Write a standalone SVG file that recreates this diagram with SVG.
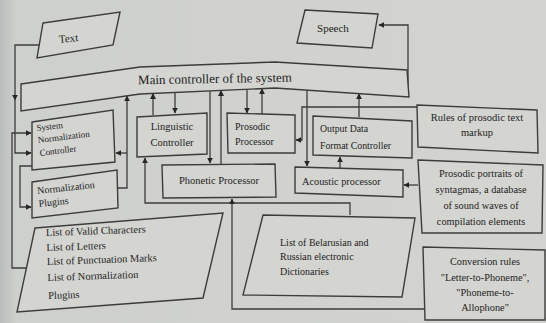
<svg xmlns="http://www.w3.org/2000/svg" width="546" height="323" viewBox="0 0 546 323">
<defs>
<linearGradient id="bg" x1="0" y1="0" x2="1" y2="0">
<stop offset="0" stop-color="#b9bcbb"/>
<stop offset="0.03" stop-color="#ced0cd"/>
<stop offset="1" stop-color="#d3d4d0"/>
</linearGradient>
<marker id="ah" viewBox="0 0 10 10" refX="9" refY="5" markerWidth="6" markerHeight="6" markerUnits="userSpaceOnUse" orient="auto">
<path d="M0,0 L10,5 L0,10 z" fill="#262626"/>
</marker>
<style>
.box{fill:#d4d5d1;stroke:#3c3c3c;stroke-width:1.4}
.c{fill:none;stroke:#3c3c3c;stroke-width:1.3;marker-end:url(#ah)}
text{font-family:"Liberation Serif","DejaVu Serif",serif;fill:#222}
.m{text-anchor:middle}
</style>
</defs>
<rect width="546" height="323" fill="url(#bg)"/>

<g id="connectors">
<path class="c" d="M40,45 H15 V100"/>
<path class="c" d="M15,100 V153 H31"/>
<path class="c" d="M27,268 H12 V133 H31"/>
<path class="c" d="M32,166 H20 V207 H31"/>
<path class="c" d="M118,188 H127 V96"/>
<path class="c" d="M127,153 H116"/>
<path class="c" d="M153,115 V93.5"/>
<path class="c" d="M175,92.5 V113"/>
<path class="c" d="M210,91 V163"/>
<path class="c" d="M221,164 V90.5"/>
<path class="c" d="M247,89.2 V113"/>
<path class="c" d="M262,114 V88.8"/>
<path class="c" d="M307,90.2 V166"/>
<path class="c" d="M359,117 V93.8"/>
<path class="c" d="M340,168 V157"/>
<path class="c" d="M417,107 H302 V140 H296"/>
<path class="c" d="M418,185 H404"/>
<path class="c" d="M408,85 V25 H379"/>
<path class="c" d="M350,215 V203 H145 V158"/>
<path class="c" d="M425,309 H232 V199"/>
</g>

<g id="text-input">
<polygon class="box" points="43,23 120,12 113,45 37,58"/>
<text x="69" y="42" class="m" font-size="11" transform="rotate(-6 69 42)">Text</text>
</g>
<g id="speech">
<polygon class="box" points="305,10 378,14 372,48 297,43"/>
<text x="333" y="32" class="m" font-size="11">Speech</text>
</g>
<g id="main-controller">
<polygon class="box" points="21,84 140,67 275,62 407,70 409,97 275,88 140,94 21,111"/>
<text x="215" y="83" class="m" font-size="13" transform="rotate(-1 215 83)">Main controller of the system</text>
</g>
<g id="system-normalization-controller">
<polygon class="box" points="32,122 113,110 115,162 32,170"/>
<g transform="rotate(-7 38 140)" font-size="9">
<text x="38" y="131">System</text>
<text x="38" y="143">Normalization</text>
<text x="38" y="156">Controller</text>
</g>
</g>
<g id="normalization-plugins">
<polygon class="box" points="32,182 117,170 118,208 32,218"/>
<g transform="rotate(-6 38 198)" font-size="10">
<text x="38" y="194">Normalization</text>
<text x="38" y="207">Plugins</text>
</g>
</g>
<g id="linguistic-controller">
<polygon class="box" points="137,117 207,113 207,154 137,157"/>
<text x="172" y="130" class="m" font-size="10.5">Linguistic</text>
<text x="172" y="146" class="m" font-size="10.5">Controller</text>
</g>
<g id="prosodic-processor">
<polygon class="box" points="227,113 295,115 295,153 228,153"/>
<text x="235" y="130" font-size="10">Prosodic</text>
<text x="235" y="145" font-size="10">Processor</text>
</g>
<g id="phonetic-processor">
<polygon class="box" points="162,165 275,164 276,197 163,198"/>
<text x="219" y="184" class="m" font-size="10.5">Phonetic Processor</text>
</g>
<g id="output-data-format-controller">
<polygon class="box" points="313,116 412,121 412,158 313,155"/>
<text x="320" y="132" font-size="9.8">Output Data</text>
<text x="320" y="149" font-size="9.8">Format Controller</text>
</g>
<g id="acoustic-processor">
<polygon class="box" points="295,167 403,170 403,197 295,193"/>
<text x="302" y="185" font-size="10.3">Acoustic processor</text>
</g>
<g id="rules-prosodic">
<polygon class="box" points="417,105 537,110 538,153 418,147"/>
<text x="477" y="121" class="m" font-size="10.5">Rules of prosodic text</text>
<text x="477" y="136" class="m" font-size="10.5">markup</text>
</g>
<g id="prosodic-portraits">
<polygon class="box" points="418,160 543,165 542,233 422,233"/>
<text x="481" y="177" class="m" font-size="10.3">Prosodic portraits of</text>
<text x="481" y="193" class="m" font-size="10.3">syntagmas, a database</text>
<text x="481" y="209" class="m" font-size="10.3">of sound waves of</text>
<text x="481" y="225" class="m" font-size="10.3">compilation elements</text>
</g>
<g id="conversion-rules">
<polygon class="box" points="423,247 545,250 545,320 425,320"/>
<text x="485" y="265" class="m" font-size="10.3">Conversion rules</text>
<text x="485" y="281" class="m" font-size="10.3">"Letter-to-Phoneme",</text>
<text x="485" y="296" class="m" font-size="10.3">"Phoneme-to-</text>
<text x="485" y="311" class="m" font-size="10.3">Allophone"</text>
</g>
<g id="list-valid-characters">
<polygon class="box" points="35,228 223,213 203,298 17,312"/>
<g transform="rotate(-2 47 265)" font-size="10.5">
<text x="47" y="236">List of Valid Characters</text>
<text x="47" y="251">List of Letters</text>
<text x="47" y="265">List of Punctuation Marks</text>
<text x="47" y="281">List of Normalization</text>
<text x="47" y="299">Plugins</text>
</g>
</g>
<g id="list-dictionaries">
<polygon class="box" points="263,215 415,218 402,297 243,295"/>
<text x="280" y="246" font-size="10">List of Belarusian and</text>
<text x="280" y="260" font-size="10">Russian electronic</text>
<text x="280" y="275" font-size="10">Dictionaries</text>
</g>
</svg>
